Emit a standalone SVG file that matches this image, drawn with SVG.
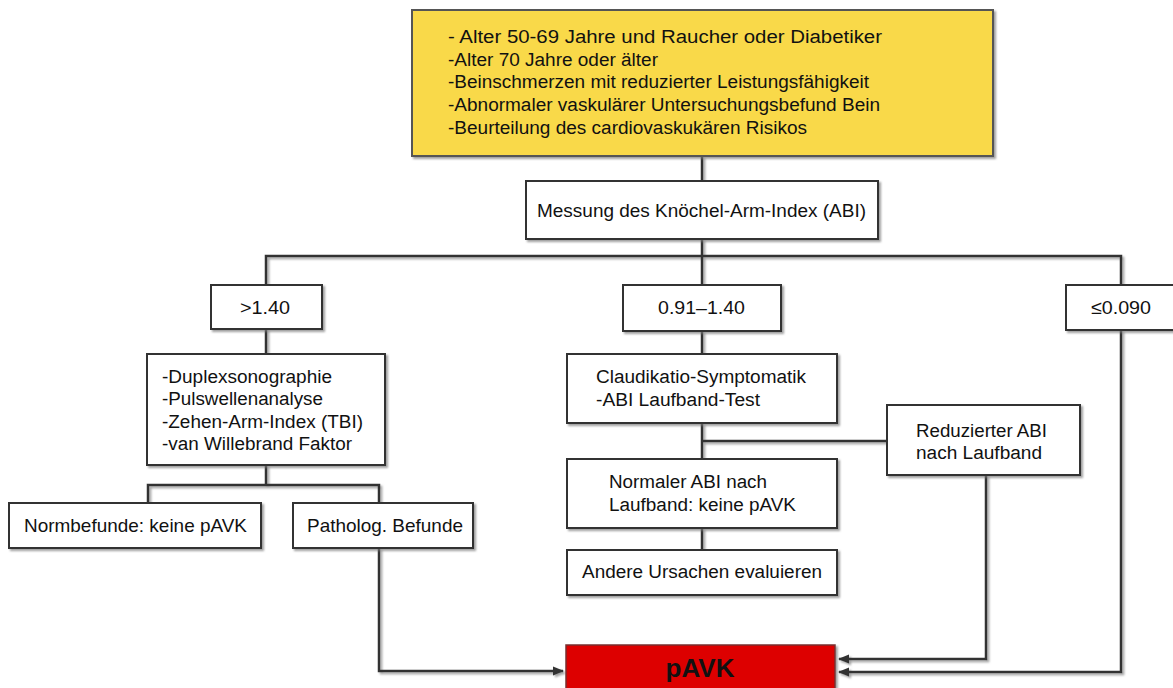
<svg xmlns="http://www.w3.org/2000/svg" width="1173" height="688" viewBox="0 0 1173 688">
<defs>
<filter id="sh" x="-10%" y="-10%" width="130%" height="140%">
<feDropShadow dx="2" dy="2" stdDeviation="1.2" flood-color="#777" flood-opacity="0.7"/>
</filter>
<marker id="arr" viewBox="0 0 10 10" refX="9" refY="5" markerWidth="4.5" markerHeight="4.5" orient="auto" markerUnits="strokeWidth">
<path d="M0,1 L10,5 L0,9 Z" fill="#333"/>
</marker>
<style>
.box{fill:#fff;stroke:#333;stroke-width:2;filter:url(#sh)}
.yel{fill:#F9D94A;stroke:#555;stroke-width:2;filter:url(#sh)}
.red{fill:#DD0000;stroke:#7a3030;stroke-width:1.5;filter:url(#sh)}
.t{font-family:"Liberation Sans",Arial,sans-serif;font-size:18px;fill:#111}
.l{font-size:19px}
.c{text-anchor:middle}
.b{font-weight:bold;font-size:26px;fill:#111}
.con path{fill:none;stroke:#333;stroke-width:2.5;stroke-linejoin:miter}
</style>
</defs>
<rect width="1173" height="688" fill="#fff"/>

<g class="con" filter="url(#sh)">
<path d="M702,156 V181"/>
<path d="M702,239 V285"/>
<path d="M266,285 V256 H1121 V285"/>
<path d="M266,329 V354"/>
<path d="M266,465 V485"/>
<path d="M148,503 V485 H379 V503"/>
<path d="M379,548 V671 H563" marker-end="url(#arr)"/>
<path d="M702,331 V354"/>
<path d="M702,423 V459"/>
<path d="M702,441 H887"/>
<path d="M702,528 V550"/>
<path d="M986,475 V659 H839" marker-end="url(#arr)"/>
<path d="M1121,330 V672 H839" marker-end="url(#arr)"/>
</g>

<g id="n-criteria">
<rect class="yel" x="412" y="10" width="581" height="146"/>
<text class="t" x="448" y="43" textLength="434" lengthAdjust="spacingAndGlyphs">- Alter 50-69 Jahre und Raucher oder Diabetiker</text>
<text class="t" x="448" y="65.5" textLength="210" lengthAdjust="spacingAndGlyphs">-Alter 70 Jahre oder älter</text>
<text class="t" x="448" y="88" textLength="421" lengthAdjust="spacingAndGlyphs">-Beinschmerzen mit reduzierter Leistungsfähigkeit</text>
<text class="t" x="448" y="111" textLength="432" lengthAdjust="spacingAndGlyphs">-Abnormaler vaskulärer Untersuchungsbefund Bein</text>
<text class="t" x="448" y="133.5" textLength="359" lengthAdjust="spacingAndGlyphs">-Beurteilung des cardiovaskukären Risikos</text>
</g>

<g id="n-abi">
<rect class="box" x="526" y="181" width="352" height="58"/>
<text class="t" x="537" y="217" textLength="329" lengthAdjust="spacingAndGlyphs">Messung des Knöchel-Arm-Index (ABI)</text>
</g>

<g id="n-gt140">
<rect class="box" x="211" y="285" width="111" height="44"/>
<text class="t l" x="240" y="314" textLength="50" lengthAdjust="spacingAndGlyphs">&gt;1.40</text>
</g>

<g id="n-mid">
<rect class="box" x="623" y="285" width="158" height="46"/>
<text class="t l" x="658" y="314" textLength="87" lengthAdjust="spacingAndGlyphs">0.91–1.40</text>
</g>

<g id="n-le090">
<rect class="box" x="1066" y="285" width="120" height="45"/>
<text class="t l" x="1091" y="314" textLength="60" lengthAdjust="spacingAndGlyphs">≤0.090</text>
</g>

<g id="n-duplex">
<rect class="box" x="147" y="354" width="238" height="111"/>
<text class="t" x="162" y="383" textLength="170" lengthAdjust="spacingAndGlyphs">-Duplexsonographie</text>
<text class="t" x="162" y="405" textLength="161" lengthAdjust="spacingAndGlyphs">-Pulswellenanalyse</text>
<text class="t" x="162" y="428" textLength="201" lengthAdjust="spacingAndGlyphs">-Zehen-Arm-Index (TBI)</text>
<text class="t" x="162" y="450" textLength="190" lengthAdjust="spacingAndGlyphs">-van Willebrand Faktor</text>
</g>

<g id="n-norm">
<rect class="box" x="9" y="503" width="252" height="45"/>
<text class="t l" x="24" y="532" textLength="223" lengthAdjust="spacingAndGlyphs">Normbefunde: keine pAVK</text>
</g>

<g id="n-patho">
<rect class="box" x="293" y="503" width="180" height="45"/>
<text class="t l" x="307" y="532" textLength="156" lengthAdjust="spacingAndGlyphs">Patholog. Befunde</text>
</g>

<g id="n-claud">
<rect class="box" x="567" y="354" width="270" height="69"/>
<text class="t" x="596" y="383" textLength="210" lengthAdjust="spacingAndGlyphs">Claudikatio-Symptomatik</text>
<text class="t" x="596" y="406" textLength="164" lengthAdjust="spacingAndGlyphs">-ABI Laufband-Test</text>
</g>

<g id="n-reduz">
<rect class="box" x="887" y="405" width="193" height="70"/>
<text class="t" x="916" y="437" textLength="131" lengthAdjust="spacingAndGlyphs">Reduzierter ABI</text>
<text class="t" x="916" y="459" textLength="126" lengthAdjust="spacingAndGlyphs">nach Laufband</text>
</g>

<g id="n-normal">
<rect class="box" x="567" y="459" width="270" height="69"/>
<text class="t" x="609" y="488" textLength="158" lengthAdjust="spacingAndGlyphs">Normaler ABI nach</text>
<text class="t" x="609" y="511" textLength="187" lengthAdjust="spacingAndGlyphs">Laufband: keine pAVK</text>
</g>

<g id="n-andere">
<rect class="box" x="567" y="550" width="270" height="45"/>
<text class="t" x="582" y="578" textLength="240" lengthAdjust="spacingAndGlyphs">Andere Ursachen evaluieren</text>
</g>

<g id="n-pavk">
<rect class="red" x="566" y="645" width="269" height="60"/>
<text class="t b c" x="700" y="677">pAVK</text>
</g>
</svg>
